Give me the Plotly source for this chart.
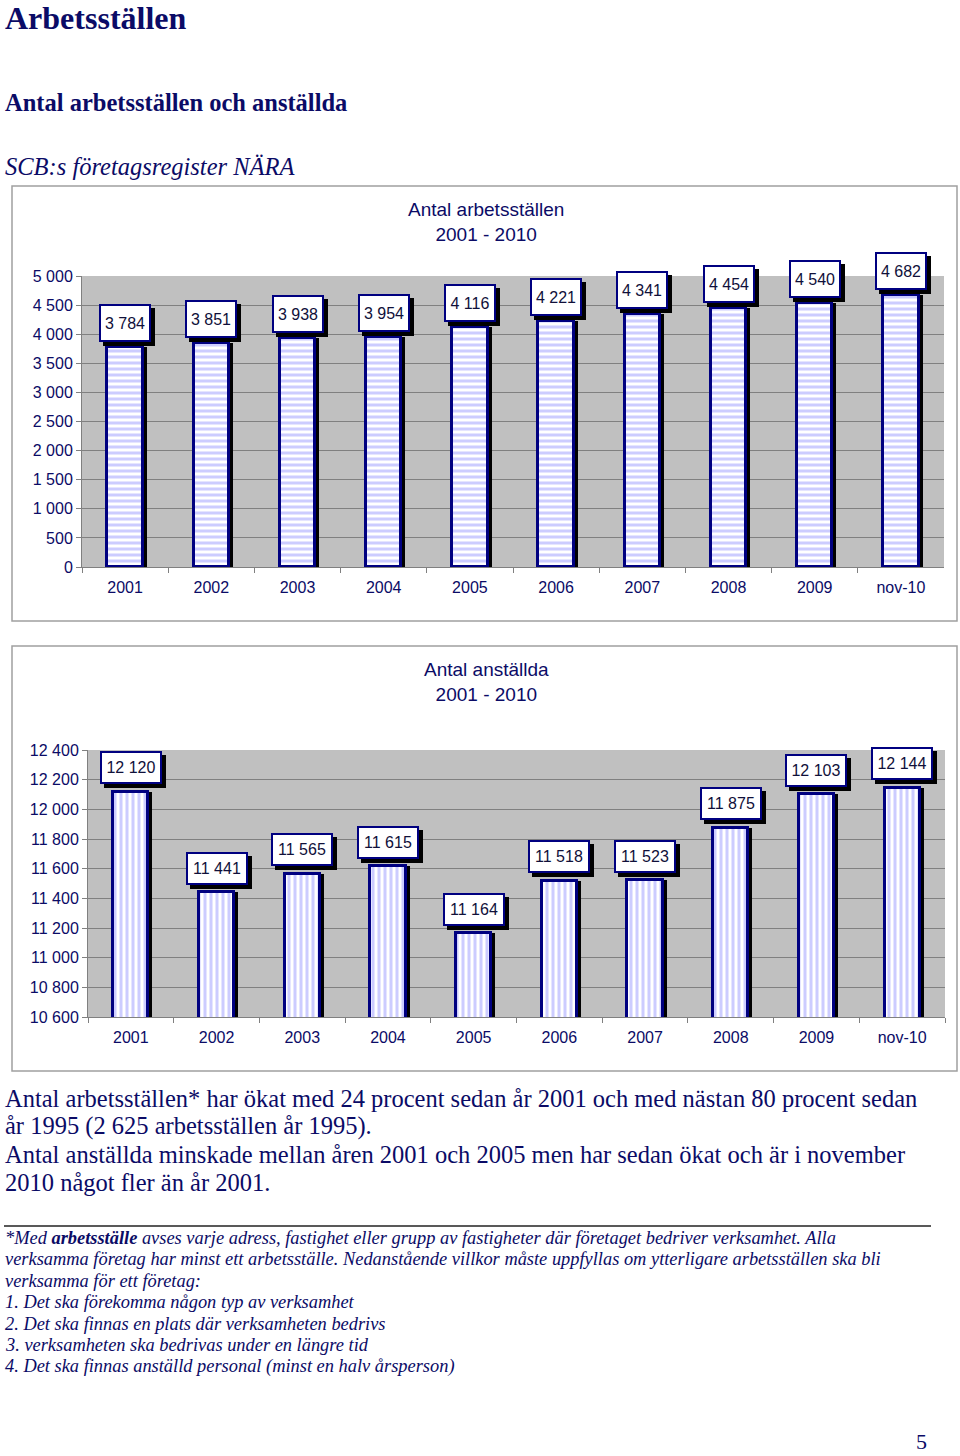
import plotly.graph_objects as go

# ---------------- data ----------------
categories = ["2001", "2002", "2003", "2004", "2005", "2006", "2007", "2008", "2009", "nov-10"]
arbetsstallen = [3784, 3851, 3938, 3954, 4116, 4221, 4341, 4454, 4540, 4682]
anstallda = [12120, 11441, 11565, 11615, 11164, 11518, 11523, 11875, 12103, 12144]

y1_ticks = [0, 500, 1000, 1500, 2000, 2500, 3000, 3500, 4000, 4500, 5000]
y1_ticktext = ["0", "500", "1 000", "1 500", "2 000", "2 500", "3 000", "3 500", "4 000", "4 500", "5 000"]
y2_ticks = [10600, 10800, 11000, 11200, 11400, 11600, 11800, 12000, 12200, 12400]
y2_ticktext = ["10 600", "10 800", "11 000", "11 200", "11 400", "11 600", "11 800", "12 000", "12 200", "12 400"]

chart1_title = "Antal arbetsställen<br>2001 - 2010"
chart2_title = "Antal anställda<br>2001 - 2010"

W, H = 960, 1456
NAVY = "#000080"
TXT = "#0b0b66"
SANS = "Liberation Sans, Arial, sans-serif"
SERIF = "Liberation Serif, Times New Roman, serif"


def px(x):
    return x / W


def py(y):
    return 1 - y / H


fig = go.Figure()

BW = 0.41
SH = 4 / 86.0


def add_bars(vals, xa, ya, shape):
    # shadow
    fig.add_trace(go.Bar(x=categories, y=vals, xaxis=xa, yaxis=ya,
                         width=BW, offset=-BW / 2 + SH,
                         marker=dict(color="black", line=dict(width=0)),
                         hoverinfo="skip", showlegend=False))
    fig.add_trace(go.Bar(x=categories, y=vals, xaxis=xa, yaxis=ya,
                         width=BW, offset=-BW / 2,
                         marker=dict(color="white",
                                     line=dict(color=NAVY, width=3),
                                     pattern=dict(shape=shape, fgcolor="#9999ff",
                                                  bgcolor="white", size=6, solidity=0.5)),
                         showlegend=False))


add_bars(arbetsstallen, "x", "y", "-")
add_bars(anstallda, "x2", "y2", "|")

annotations = []


def fmt(v):
    return f"{v:,}".replace(",", " ")


def add_labels(vals, xr, yr, w, h):
    # category axis: annotation x given as category serial number
    for i, v in enumerate(vals):
        common = dict(x=i, y=v, xref=xr, yref=yr, showarrow=False, width=w, height=h,
                      borderpad=3, borderwidth=2,
                      xanchor="center", yanchor="middle")
        # drop shadow box (no text)
        annotations.append(dict(common, text="&#160;", xshift=4, yshift=20,
                                bgcolor="black", bordercolor="black",
                                font=dict(family=SANS, size=16, color="black")))
        annotations.append(dict(common, text=fmt(v), xshift=0, yshift=24,
                                bgcolor="white", bordercolor=NAVY,
                                font=dict(family=SANS, size=16, color="#10103a")))


add_labels(arbetsstallen, "x", "y", 42, 28)
add_labels(anstallda, "x2", "y2", 52, 23)

# chart titles
annotations.append(dict(text=chart1_title, x=px(486), y=py(222), xref="paper", yref="paper",
                        showarrow=False, font=dict(family=SANS, size=19, color=TXT),
                        xanchor="center", yanchor="middle"))
annotations.append(dict(text=chart2_title, x=px(486), y=py(682), xref="paper", yref="paper",
                        showarrow=False, font=dict(family=SANS, size=19, color=TXT),
                        xanchor="center", yanchor="middle"))


def page_text(text, x, y, size, family=SERIF, xanchor="left"):
    annotations.append(dict(text=text, x=px(x), y=py(y), xref="paper", yref="paper",
                            showarrow=False, font=dict(family=family, size=size, color=TXT),
                            xanchor=xanchor, yanchor="middle", align="left"))


page_text("<b>Arbetsställen</b>", 3, 18, 32)
page_text("<b>Antal arbetsställen och anställda</b>", 3, 103, 24.5)
page_text("<i>SCB:s företagsregister NÄRA</i>", 3, 166, 24.5)

para = [
    "Antal arbetsställen* har ökat med 24 procent sedan år 2001 och med nästan 80 procent sedan",
    "år 1995 (2 625 arbetsställen år 1995).",
    "Antal anställda minskade mellan åren 2001 och 2005 men har sedan ökat och är i november",
    "2010 något fler än år 2001.",
]
for i, line in enumerate(para):
    page_text(line, 3, 1098 + i * 28.3, 24.5)

foot = [
    "<i>*Med <b>arbetsställe</b> avses varje adress, fastighet eller grupp av fastigheter där företaget bedriver verksamhet. Alla</i>",
    "<i>verksamma företag har minst ett arbetsställe. Nedanstående villkor måste uppfyllas om ytterligare arbetsställen ska bli</i>",
    "<i>verksamma för ett företag:</i>",
    "<i>1. Det ska förekomma någon typ av verksamhet</i>",
    "<i>2. Det ska finnas en plats där verksamheten bedrivs</i>",
    "<i>3. verksamheten ska bedrivas under en längre tid</i>",
    "<i>4. Det ska finnas anställd personal (minst en halv årsperson)</i>",
]
for i, line in enumerate(foot):
    page_text(line, 3, 1238 + i * 21.4, 18.4)

page_text("5", 921, 1441, 22, xanchor="center")

shapes = [
    dict(type="rect", xref="paper", yref="paper", x0=px(12), x1=px(957), y0=py(186), y1=py(621),
         line=dict(color="#a0a0a0", width=1.5), layer="below"),
    dict(type="rect", xref="paper", yref="paper", x0=px(12), x1=px(957), y0=py(646), y1=py(1071),
         line=dict(color="#a0a0a0", width=1.5), layer="below"),
    dict(type="line", xref="paper", yref="paper", x0=px(4), x1=px(931), y0=py(1226), y1=py(1226),
         line=dict(color="#222222", width=1.5)),
]

axis_common = dict(showgrid=True, gridcolor="#808080", gridwidth=1, zeroline=False,
                   showline=True, linecolor="#808080", linewidth=1, automargin=False,
                   ticks="outside", ticklen=5, tickcolor="#808080",
                   tickfont=dict(family=SANS, size=16, color=TXT))

xaxis_common = dict(type="category", tickson="boundaries", range=[-0.5, 9.5], autorange=False,
                    showgrid=False, showline=True, linecolor="#808080", ticks="outside",
                    ticklen=5, tickcolor="#808080", ticklabelstandoff=6, tickangle=0,
                    automargin=False,
                    tickfont=dict(family=SANS, size=16, color=TXT))

fig.update_layout(
    width=W, height=H, autosize=False,
    margin=dict(l=0, r=0, t=0, b=0, pad=0, autoexpand=False),
    paper_bgcolor="white", plot_bgcolor="#c0c0c0",
    barmode="overlay", bargap=0,
    showlegend=False,
    xaxis=dict(domain=[px(82), px(944)], anchor="y", **xaxis_common),
    yaxis=dict(domain=[py(567), py(276)], anchor="x", range=[0, 5000],
               tickvals=y1_ticks, ticktext=y1_ticktext, **axis_common),
    xaxis2=dict(domain=[px(88), px(945)], anchor="y2", **xaxis_common),
    yaxis2=dict(domain=[py(1017), py(750)], anchor="x2", range=[10600, 12400],
                tickvals=y2_ticks, ticktext=y2_ticktext, **axis_common),
    annotations=annotations,
    shapes=shapes,
)

fig.write_html("out.html", config={"displayModeBar": False},
               post_script="document.body.style.margin='0';document.body.style.overflow='hidden';")
